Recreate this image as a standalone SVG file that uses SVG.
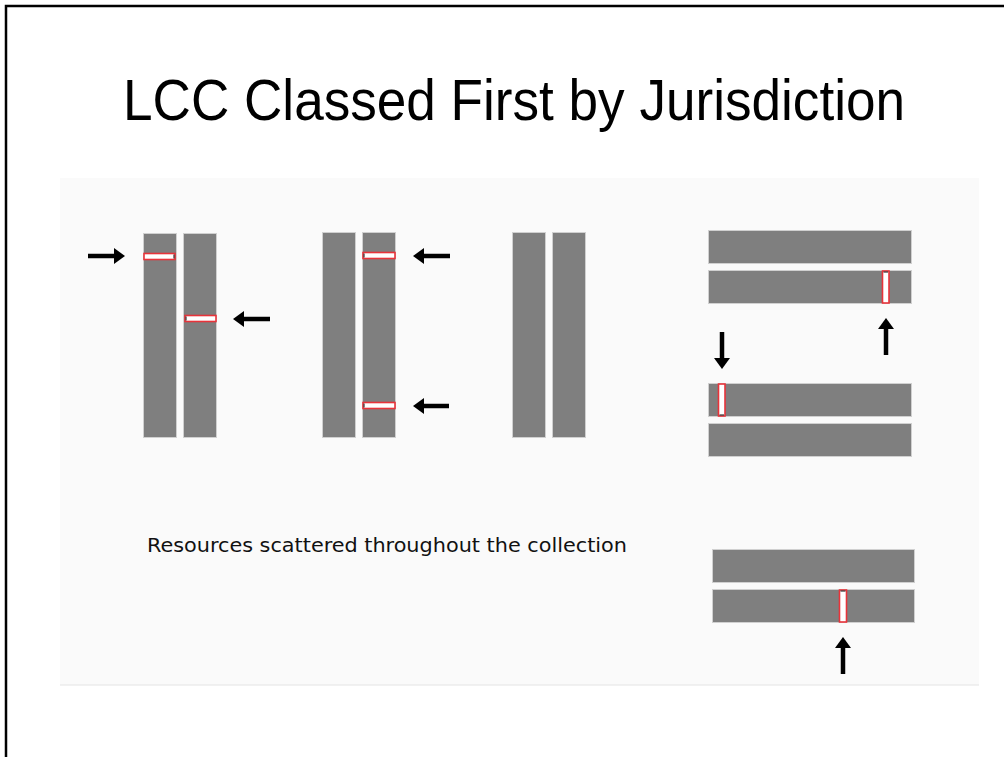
<svg xmlns="http://www.w3.org/2000/svg" width="1004" height="757" viewBox="0 0 1004 757">
<style>
.bar{fill:#7f7f7f;stroke:#d0d0d0;stroke-width:1}
.slot{fill:#ffffff;stroke:#e8333a;stroke-width:1.6}
.tick{stroke:#333;stroke-width:1.2}
.arrow{stroke:#000;stroke-width:4.5;fill:none;marker-end:url(#ah)}
.title{font-family:"Liberation Sans",Arial,sans-serif;font-size:57px;fill:#000}
.sub{font-family:"DejaVu Sans Condensed","DejaVu Sans",Verdana,sans-serif;font-size:19.5px;fill:#111}
</style>
<defs>
<marker id="ah" markerUnits="userSpaceOnUse" viewBox="0 0 11 16" markerWidth="11" markerHeight="16" refX="1" refY="8" orient="auto">
<path d="M0,0 L11,8 L0,16 z" fill="#000"/>
</marker>
</defs>
<rect width="1004" height="757" fill="#fff"/>
<path d="M6,757 V6 H1004" fill="none" stroke="#000" stroke-width="2.5"/>
<text class="title" x="123" y="120" textLength="782" lengthAdjust="spacingAndGlyphs">LCC Classed First by Jurisdiction</text>
<rect x="60" y="178" width="919" height="507" fill="#fafafa"/>
<line x1="60" y1="685" x2="979" y2="685" stroke="#e4e4e4" stroke-width="1"/>
<text class="sub" x="147" y="552" textLength="480" lengthAdjust="spacingAndGlyphs">Resources scattered throughout the collection</text>

<g id="shelf-1">
<rect class="bar" x="143.5" y="233.5" width="33" height="204"/>
<rect class="bar" x="183.5" y="233.5" width="33" height="204"/>
<rect class="slot" x="144" y="253.5" width="31" height="6"/>
<line class="tick" x1="174" y1="254.5" x2="174" y2="258.5"/>
<rect class="slot" x="185" y="315.5" width="31" height="6"/>
<line class="tick" x1="186" y1="316.5" x2="186" y2="320.5"/>
</g>
<g id="shelf-2">
<rect class="bar" x="322.5" y="232.5" width="33" height="205"/>
<rect class="bar" x="362.5" y="232.5" width="33" height="205"/>
<rect class="slot" x="363" y="252.5" width="32" height="6"/>
<line class="tick" x1="364" y1="253.5" x2="364" y2="257.5"/>
<rect class="slot" x="363" y="402.5" width="32" height="6"/>
<line class="tick" x1="364" y1="403.5" x2="364" y2="407.5"/>
</g>
<g id="shelf-3">
<rect class="bar" x="512.5" y="232.5" width="33" height="205"/>
<rect class="bar" x="552.5" y="232.5" width="33" height="205"/>
</g>
<g id="shelf-4">
<rect class="bar" x="708.5" y="230.5" width="203" height="33"/>
<rect class="bar" x="708.5" y="270.5" width="203" height="33"/>
<rect class="slot" x="882.5" y="271" width="6.5" height="32"/>
<line class="tick" x1="883.5" y1="272" x2="888" y2="272"/>
<rect class="bar" x="708.5" y="383.5" width="203" height="33"/>
<rect class="slot" x="718.5" y="384" width="6.5" height="32"/>
<line class="tick" x1="719.5" y1="415" x2="724" y2="415"/>
<rect class="bar" x="708.5" y="423.5" width="203" height="33"/>
</g>
<g id="shelf-5">
<rect class="bar" x="712.5" y="549.5" width="202" height="33"/>
<rect class="bar" x="712.5" y="589.5" width="202" height="33"/>
<rect class="slot" x="839.5" y="590" width="7" height="32"/>
<line class="tick" x1="840.5" y1="591" x2="845.5" y2="591"/>
</g>

<g id="connectors">
<line class="arrow" x1="88" y1="256" x2="115" y2="256"/>
<line class="arrow" x1="270" y1="319" x2="243" y2="319"/>
<line class="arrow" x1="450" y1="256" x2="423" y2="256"/>
<line class="arrow" x1="449" y1="406" x2="423" y2="406"/>
<line class="arrow" x1="886" y1="355" x2="886" y2="328"/>
<line class="arrow" x1="722" y1="332" x2="722" y2="359"/>
<line class="arrow" x1="843" y1="674" x2="843" y2="647"/>
</g>
</svg>
